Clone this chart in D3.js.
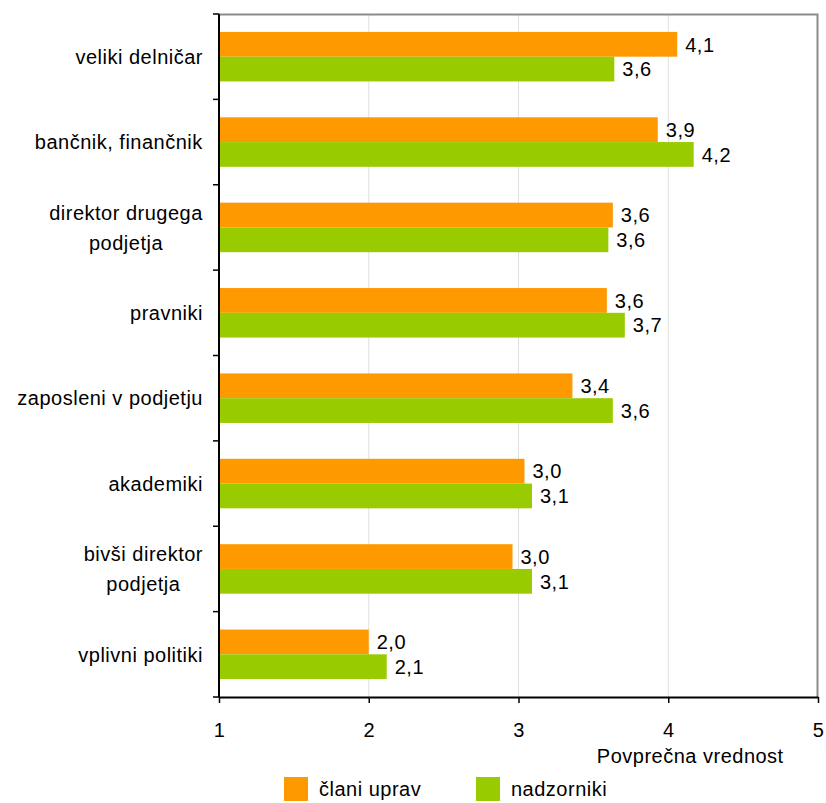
<!DOCTYPE html>
<html>
<head>
<meta charset="utf-8">
<script src="https://cdn.jsdelivr.net/npm/d3@7"></script>
<style>
  body { margin: 0; background: #fff; }
  text { font-family: "Liberation Sans", Arial, sans-serif; fill: #000; letter-spacing: 0.5px; }
</style>
</head>
<body>
<svg id="chart" width="826" height="803"></svg>
<script>
var categories = [
  ["veliki delničar"],
  ["bančnik, finančnik"],
  ["direktor drugega", "podjetja"],
  ["pravniki"],
  ["zaposleni v podjetju"],
  ["akademiki"],
  ["bivši direktor", "podjetja"],
  ["vplivni politiki"]
];
var clani = [4.06, 3.93, 3.63, 3.59, 3.36, 3.04, 2.96, 2.0];
var nadzorniki = [3.64, 4.17, 3.60, 3.71, 3.63, 3.09, 3.09, 2.12];
var seriesNames = ["člani uprav", "nadzorniki"];
var colors = ["#ff9900", "#99cc00"];
var xTicks = [1, 2, 3, 4, 5];
var fs = 20;

var svg = d3.select("#chart"),
    margin = {top: 14, right: 8, bottom: 106, left: 219},
    width = +svg.attr("width") - margin.left - margin.right,
    height = +svg.attr("height") - margin.top - margin.bottom,
    g = svg.append("g").attr("transform", "translate(" + margin.left + "," + margin.top + ")");

var x = d3.scaleLinear().domain([1, 5]).range([0, width]);
var y = d3.scaleBand().domain(d3.range(categories.length)).range([0, height]).paddingInner(0.42).paddingOuter(0.21);
var y1 = d3.scaleBand().domain([0, 1]).range([0, y.bandwidth()]);

// gridlines
g.selectAll(".grid").data(xTicks.slice(1, -1)).enter().append("line")
    .attr("x1", function(d) { return x(d); })
    .attr("x2", function(d) { return x(d); })
    .attr("y1", 0).attr("y2", height)
    .attr("stroke", "#e0e0e0").attr("stroke-width", 1);

// plot border (top, right)
g.append("path")
    .attr("d", "M0,0.5H" + (width - 0.5) + "V" + height)
    .attr("fill", "none").attr("stroke", "#8c8c8c").attr("stroke-width", 2);

var rows = categories.map(function(c, i) { return {i: i, vals: [clani[i], nadzorniki[i]]}; });

var row = g.selectAll(".row").data(rows).enter().append("g")
    .attr("transform", function(d) { return "translate(0," + y(d.i) + ")"; });

row.selectAll("rect").data(function(d) { return d.vals; }).enter().append("rect")
    .attr("x", x(1))
    .attr("y", function(d, j) { return y1(j); })
    .attr("width", function(d) { return x(d) - x(1); })
    .attr("height", y1.bandwidth())
    .attr("fill", function(d, j) { return colors[j]; });

row.selectAll(".val").data(function(d) { return d.vals; }).enter().append("text")
    .attr("x", function(d) { return x(d) + 8; })
    .attr("y", function(d, j) { return y1(j) + y1.bandwidth() / 2; })
    .attr("dy", "0.36em")
    .attr("font-size", fs)
    .text(function(d) { return d3.format(".1f")(d).replace(".", ","); });

// y axis with category boundary ticks
var step = height / categories.length;
g.append("line").attr("x1", 0).attr("x2", 0).attr("y1", 0).attr("y2", height)
    .attr("stroke", "#000").attr("stroke-width", 2);
g.selectAll(".ytick").data(d3.range(categories.length + 1)).enter().append("line")
    .attr("x1", -6).attr("x2", 0)
    .attr("y1", function(d) { return d * step; })
    .attr("y2", function(d) { return d * step; })
    .attr("stroke", "#000").attr("stroke-width", 1.5);

var lab = g.selectAll(".cat").data(categories).enter().append("text")
    .attr("text-anchor", "middle")
    .attr("font-size", fs);
lab.each(function(lines, i) {
  var t = d3.select(this);
  lines.forEach(function(s, k) {
    t.append("tspan").attr("x", 0)
      .attr("dy", k === 0 ? (0.36 - (lines.length - 1) * 0.75) + "em" : "1.5em")
      .text(s);
  });
  // right-align block, lines centered on each other
  var bb = this.getBBox();
  t.attr("transform", "translate(" + (-16 - bb.width / 2) + "," + (y(i) + y.bandwidth() / 2) + ")");
});

// x axis
var xAxis = g.append("g")
    .attr("transform", "translate(0," + height + ")")
    .call(d3.axisBottom(x).tickValues(xTicks).tickFormat(d3.format("d")).tickSize(6).tickSizeOuter(0));
xAxis.select(".domain").attr("stroke", "#000").attr("stroke-width", 2);
xAxis.selectAll(".tick line").attr("stroke", "#000").attr("stroke-width", 1.5);
xAxis.selectAll(".tick text").attr("font-size", fs).attr("font-family", "Liberation Sans, Arial, sans-serif").attr("dy", "1.55em");

g.append("text")
    .attr("x", x(4) + 22)
    .attr("y", height + 66)
    .attr("text-anchor", "middle")
    .attr("font-size", fs)
    .text("Povprečna vrednost");

// legend
var legend = svg.append("g").attr("transform", "translate(284,777)");
var li = legend.selectAll("g").data(seriesNames).enter().append("g")
    .attr("transform", function(d, i) { return "translate(" + (i * 192) + ",0)"; });
li.append("rect").attr("width", 24).attr("height", 24).attr("fill", function(d, i) { return colors[i]; });
li.append("text").attr("x", 35).attr("y", 12).attr("dy", "0.36em").attr("font-size", fs)
    .text(function(d) { return d; });
</script>
</body>
</html>
